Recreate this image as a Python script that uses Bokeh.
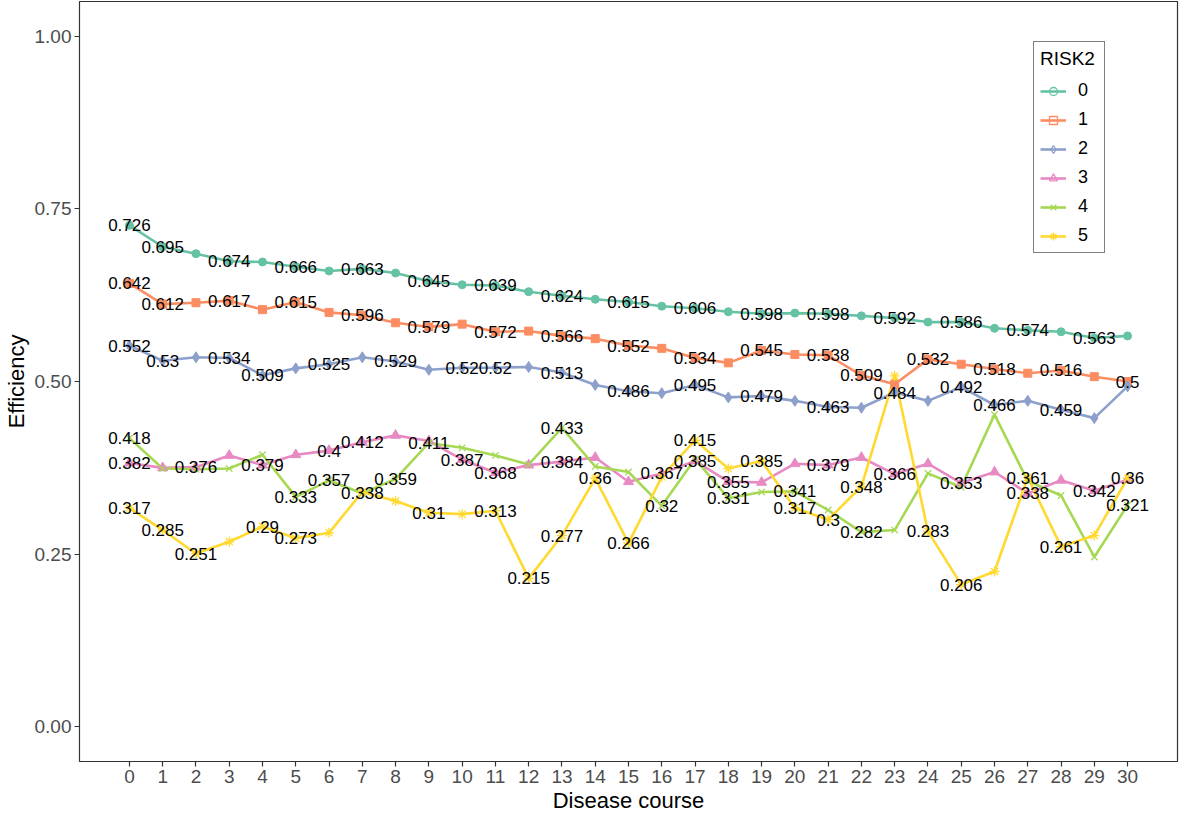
from bokeh.plotting import figure
from bokeh.models import ColumnDataSource, Legend, LegendItem, FixedTicker, Range1d, NumeralTickFormatter
from bokeh.core.properties import value
from bokeh.embed import file_html
from bokeh.resources import INLINE

course = list(range(31))
groups = ["0", "1", "2", "3", "4", "5"]

risk0 = [0.726, 0.695, 0.685, 0.674, 0.673, 0.666, 0.660, 0.663, 0.657, 0.645, 0.640,
         0.639, 0.630, 0.624, 0.619, 0.615, 0.609, 0.606, 0.601, 0.598, 0.599, 0.598,
         0.595, 0.592, 0.586, 0.586, 0.577, 0.574, 0.572, 0.563, 0.566]
risk1 = [0.642, 0.612, 0.614, 0.617, 0.604, 0.615, 0.600, 0.596, 0.585, 0.579, 0.583,
         0.572, 0.573, 0.566, 0.562, 0.552, 0.548, 0.534, 0.527, 0.545, 0.539, 0.538,
         0.509, 0.496, 0.532, 0.525, 0.518, 0.512, 0.516, 0.507, 0.5]
risk2 = [0.552, 0.53, 0.535, 0.534, 0.509, 0.519, 0.525, 0.535, 0.529, 0.517, 0.52,
         0.52, 0.521, 0.513, 0.495, 0.486, 0.483, 0.495, 0.477, 0.479, 0.472, 0.463,
         0.462, 0.484, 0.472, 0.492, 0.466, 0.472, 0.459, 0.447, 0.493]
risk3 = [0.382, 0.375, 0.376, 0.393, 0.379, 0.394, 0.4, 0.412, 0.422, 0.414, 0.387,
         0.368, 0.379, 0.384, 0.390, 0.355, 0.367, 0.385, 0.355, 0.354, 0.381, 0.379,
         0.390, 0.366, 0.381, 0.353, 0.369, 0.338, 0.357, 0.342, 0.358]
risk4 = [0.418, 0.374, 0.373, 0.374, 0.394, 0.333, 0.357, 0.338, 0.359, 0.411, 0.404,
         0.393, 0.380, 0.433, 0.377, 0.369, 0.32, 0.388, 0.331, 0.340, 0.341, 0.314,
         0.282, 0.285, 0.367, 0.347, 0.452, 0.356, 0.335, 0.246, 0.321]
risk5 = [0.317, 0.285, 0.251, 0.268, 0.29, 0.273, 0.281, 0.340, 0.327, 0.31, 0.308,
         0.313, 0.215, 0.277, 0.36, 0.266, 0.362, 0.415, 0.374, 0.385, 0.317, 0.3,
         0.348, 0.508, 0.283, 0.206, 0.225, 0.361, 0.261, 0.277, 0.36]

# which points keep a visible value label (the others were hidden by overlap)
shown0 = [0, 1, 3, 5, 7, 9, 11, 13, 15, 17, 19, 21, 23, 25, 27, 29]
shown1 = [0, 1, 3, 5, 7, 9, 11, 13, 15, 17, 19, 21, 22, 24, 26, 28, 30]
shown2 = [0, 1, 3, 4, 6, 8, 10, 11, 13, 15, 17, 19, 21, 23, 25, 26, 28]
shown3 = [0, 2, 4, 6, 7, 10, 11, 13, 16, 17, 18, 21, 23, 25, 27, 29]
shown4 = [0, 5, 6, 7, 8, 9, 13, 16, 18, 20, 22, 30]
shown5 = [0, 1, 2, 4, 5, 9, 11, 12, 13, 14, 15, 17, 19, 20, 21, 22, 24, 25, 27, 28, 30]

y_ticks = [0.0, 0.25, 0.5, 0.75, 1.0]

series = [risk0, risk1, risk2, risk3, risk4, risk5]
shown = [shown0, shown1, shown2, shown3, shown4, shown5]
colors = ["#66C2A5", "#FC8D62", "#8DA0CB", "#E78AC3", "#A6D854", "#FFD92F"]
markers = ["circle", "square", "diamond", "triangle", "x", "asterisk"]
msizes = [8, 8, 11, 10, 9, 10]
FONT = "Liberation Sans"

p = figure(frame_width=1098, frame_height=760,
           x_range=Range1d(-1.5, 31.5), y_range=Range1d(-0.05, 1.05),
           output_backend="svg", toolbar_location=None,
           x_axis_label="Disease course", y_axis_label="Efficiency")
p.min_border_left = 66
p.min_border_right = 2
p.min_border_top = 1
p.min_border_bottom = 0
p.background_fill_color = "white"
p.border_fill_color = "white"
p.outline_line_color = "#333333"
p.outline_line_width = 1.2
p.xgrid.visible = False
p.ygrid.visible = False

p.xaxis.ticker = FixedTicker(ticks=course)
p.yaxis.ticker = FixedTicker(ticks=y_ticks)
p.yaxis.formatter = NumeralTickFormatter(format="0.00")
for ax in (p.xaxis, p.yaxis):
    ax.axis_line_color = None
    ax.major_tick_line_color = "#333333"
    ax.major_tick_line_width = 1.2
    ax.major_tick_out = 5
    ax.major_tick_in = 0
    ax.minor_tick_line_color = None
    ax.major_label_text_font = FONT
    ax.major_label_text_font_size = "19px"
    ax.major_label_text_color = "#4D4D4D"
    ax.axis_label_text_font = FONT
    ax.axis_label_text_font_size = "22px"
    ax.axis_label_text_font_style = "normal"
    ax.axis_label_text_color = "black"
p.xaxis.major_label_standoff = 3
p.yaxis.major_label_standoff = 3
p.xaxis.axis_label_standoff = 2
p.yaxis.axis_label_standoff = 3

# lines
for ys, c in zip(series, colors):
    p.line(course, ys, line_color=c, line_width=2.6)

# points
for ys, c, m, s in zip(series, colors, markers, msizes):
    src = ColumnDataSource(dict(x=course, y=ys))
    if m in ("x", "asterisk"):
        p.scatter("x", "y", source=src, marker=m, size=s, line_color=c, line_width=1.3)
    else:
        p.scatter("x", "y", source=src, marker=m, size=s, fill_color=c, line_color=c)

# value labels
for ys, idx in zip(series, shown):
    src = ColumnDataSource(dict(x=[course[i] for i in idx], y=[ys[i] for i in idx],
                                t=[f"{ys[i]:g}" for i in idx]))
    p.text("x", "y", text="t", source=src, text_align="center", text_baseline="middle",
           text_font=value(FONT), text_font_size="17px", text_color="black")

# legend with hollow symbols (proxy renderers placed outside the visible range)
items = []
for g, c, m, s in zip(groups, colors, markers, msizes):
    lr = p.line([-100, -99], [-100, -100], line_color=c, line_width=2.6)
    if m in ("x", "asterisk"):
        sr = p.scatter([-100], [-100], marker=m, size=s, line_color=c, line_width=1.3)
    else:
        sr = p.scatter([-100], [-100], marker=m, size=s, fill_color="white", fill_alpha=0,
                       line_color=c, line_width=1.3)
    items.append(LegendItem(label=g, renderers=[lr, sr]))

legend = Legend(items=items, title="RISK2", location=(954, 508))
legend.title_text_font = FONT
legend.title_text_font_size = "19px"
legend.title_text_font_style = "normal"
legend.title_text_color = "black"
legend.title_standoff = 10
legend.label_text_font = FONT
legend.label_text_font_size = "18px"
legend.label_text_color = "black"
legend.label_standoff = 12
legend.glyph_width = 26
legend.glyph_height = 20
legend.label_height = 20
legend.spacing = 8
legend.padding = 6
legend.margin = 0
legend.border_line_color = "black"
legend.border_line_width = 1.2
legend.background_fill_color = "white"
legend.background_fill_alpha = 1
p.add_layout(legend)

open("out.html", "w").write(file_html(p, INLINE))
